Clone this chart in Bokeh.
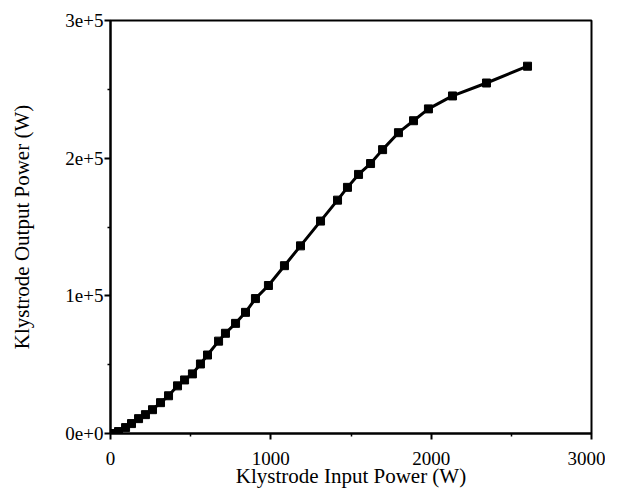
from bokeh.plotting import figure
from bokeh.models import Range1d, FixedTicker
from bokeh.embed import file_html
from bokeh.resources import INLINE

input_power = [19, 50, 94, 131, 175, 218, 262, 312, 362, 418, 462, 511, 561, 605,
               674, 717, 780, 842, 904, 985, 1085, 1185, 1310, 1416, 1478, 1547,
               1622, 1697, 1796, 1890, 1983, 2133, 2345, 2601]
output_power = [0, 1400, 4300, 7200, 10800, 13700, 17300, 22400, 27400, 34600, 38900,
                43300, 50500, 57000, 67100, 72800, 80000, 88000, 98000, 107500, 121900,
                136300, 154300, 169500, 178800, 188200, 196100, 206200, 218500, 227200,
                235800, 245200, 254600, 266800]

x_ticks = [0, 1000, 2000, 3000]
x_minor = [500, 1500, 2500]
y_ticks = [0, 100000, 200000, 300000]
y_minor = [50000, 150000, 250000]
y_tick_labels = ["0e+0", "1e+5", "2e+5", "3e+5"]

FONT = "Liberation Serif"

p = figure(width=605, height=490, output_backend="svg", toolbar_location=None,
           x_range=Range1d(0, 3000), y_range=Range1d(0, 300000))
p.min_border_left = 110
p.min_border_right = 14
p.min_border_top = 20
p.min_border_bottom = 54
p.grid.visible = False
p.outline_line_color = "black"
p.outline_line_width = 2
p.background_fill_color = "white"
p.border_fill_color = "white"

p.line(input_power, output_power, line_color="black", line_width=3)
p.scatter(input_power, output_power, marker="square", size=8,
          fill_color="black", line_color="black")

p.xaxis.ticker = FixedTicker(ticks=x_ticks, minor_ticks=x_minor)
p.yaxis.ticker = FixedTicker(ticks=y_ticks, minor_ticks=y_minor)
p.yaxis.major_label_overrides = {t: l for t, l in zip(y_ticks, y_tick_labels)}

for ax in (p.xaxis[0], p.yaxis[0]):
    ax.axis_line_width = 2
    ax.axis_line_color = "black"
    ax.major_tick_in = 0
    ax.major_tick_out = 6
    ax.minor_tick_in = 0
    ax.minor_tick_out = 3
    ax.major_tick_line_width = 2
    ax.minor_tick_line_width = 1.5
    ax.major_label_text_font = FONT
    ax.major_label_text_font_size = "19px"
    ax.major_label_text_color = "black"
    ax.axis_label_text_font = FONT
    ax.axis_label_text_font_size = "21px"
    ax.axis_label_text_font_style = "normal"
    ax.axis_label_text_color = "black"

p.xaxis.axis_label = "Klystrode Input Power (W)"
p.yaxis.axis_label = "Klystrode Output Power (W)"
p.xaxis.major_label_standoff = 12
p.xaxis.axis_label_standoff = -4
p.yaxis.major_label_standoff = 1
p.yaxis.axis_label_standoff = 28

open("out.html", "w").write(file_html(p, INLINE))
